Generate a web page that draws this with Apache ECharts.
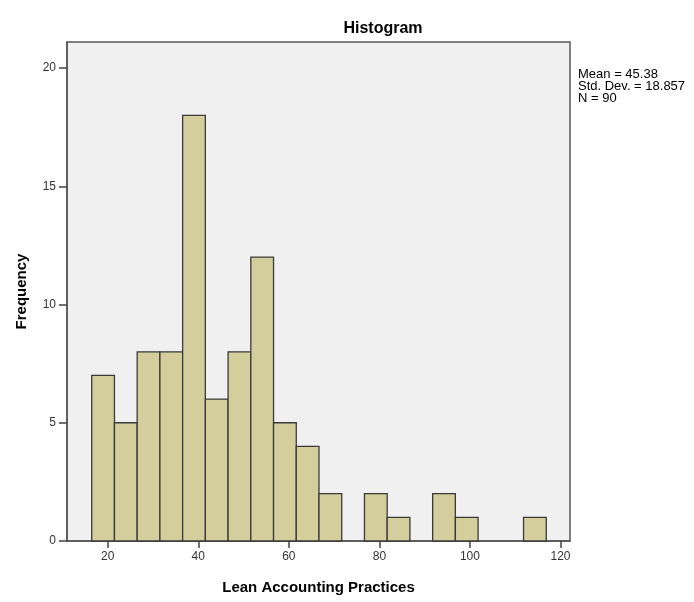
<!DOCTYPE html>
<html>
<head>
<meta charset="utf-8">
<script src="https://cdn.jsdelivr.net/npm/echarts@6/dist/echarts.min.js"></script>
<style>html,body{margin:0;padding:0;background:#fff}#c{width:694px;height:602px}</style>
</head>
<body>
<div id="c"></div>
<script>
var binStart = 16.46;
var binWidth = 5.02;
var counts = [7, 5, 8, 8, 18, 6, 8, 12, 5, 4, 2, 0, 2, 1, 0, 2, 1, 0, 0, 1];
var xTicks = [20, 40, 60, 80, 100, 120];
var yTicks = [0, 5, 10, 15, 20];
var statsLines = ['Mean = 45.38', 'Std. Dev. = 18.857', 'N = 90'];

var data = counts.map(function (c, i) {
  return [binStart + i * binWidth, binStart + (i + 1) * binWidth, c];
}).filter(function (d) { return d[2] > 0; });

var font = 'Liberation Sans, Arial, sans-serif';
var chart = echarts.init(document.getElementById('c'));
chart.setOption({
  animation: false,
  title: {
    text: 'Histogram', left: 378, top: 16, textAlign: 'center',
    textStyle: { fontFamily: font, fontSize: 16, fontWeight: 'bold', color: '#000' }
  },
  grid: { left: 67, top: 42, right: 124, bottom: 61, show: true, backgroundColor: '#f0f0f0', borderColor: '#555', borderWidth: 1.5 },
  xAxis: {
    type: 'value', min: 11, max: 122.1,
    interval: 20,
    name: 'Lean Accounting Practices', nameLocation: 'middle', nameGap: 39,
    nameTextStyle: { fontFamily: font, fontSize: 15, fontWeight: 'bold', color: '#000' },
    axisLine: { show: true, lineStyle: { color: '#555', width: 1.5 } },
    axisTick: { show: true, length: 7, lineStyle: { color: '#444', width: 1.5 }, customValues: xTicks },
    axisLabel: { fontFamily: font, fontSize: 12, color: '#333', margin: 10, customValues: xTicks },
    splitLine: { show: false }
  },
  yAxis: {
    type: 'value', min: 0, max: 21.1,
    name: 'Frequency', nameLocation: 'middle', nameGap: 38,
    nameTextStyle: { fontFamily: font, fontSize: 15, fontWeight: 'bold', color: '#000' },
    axisLine: { show: true, lineStyle: { color: '#555', width: 1.5 } },
    axisTick: { show: true, length: 8, lineStyle: { color: '#444', width: 1.5 }, customValues: yTicks },
    axisLabel: { fontFamily: font, fontSize: 12, color: '#333', margin: 11, customValues: yTicks },
    splitLine: { show: false }
  },
  graphic: [{
    type: 'text', left: 578, top: 68,
    style: { text: statsLines.join('\n'), fontFamily: font, fontSize: 13, lineHeight: 12, fill: '#000' }
  }],
  series: [{
    type: 'custom',
    data: data,
    renderItem: function (params, api) {
      var p0 = api.coord([api.value(0), api.value(2)]);
      var p1 = api.coord([api.value(1), 0]);
      return {
        type: 'rect',
        shape: { x: p0[0], y: p0[1], width: p1[0] - p0[0], height: p1[1] - p0[1] },
        style: { fill: '#d3ce9b', stroke: '#3a3a3a', lineWidth: 1.3 }
      };
    },
    encode: { x: [0, 1], y: 2 }
  }]
});
</script>
</body>
</html>
